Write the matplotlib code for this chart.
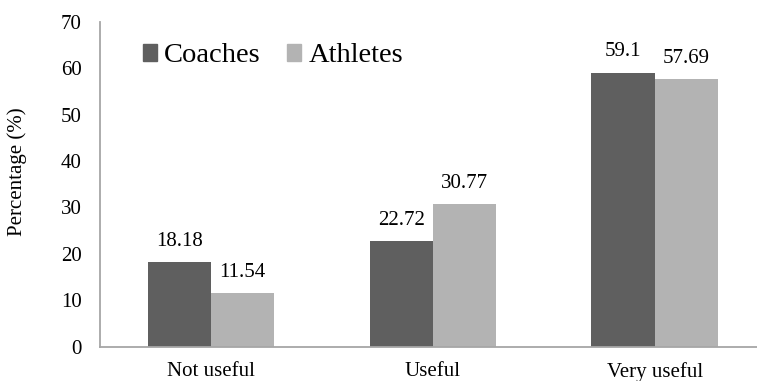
import matplotlib
matplotlib.use("Agg")
import matplotlib.pyplot as plt
import numpy as np
from matplotlib.patches import Patch

plt.rcParams['font.family'] = ['Liberation Serif', 'DejaVu Serif']

categories = ["Not useful", "Useful", "Very useful"]
coaches = [18.18, 22.72, 59.1]
athletes = [11.54, 30.77, 57.69]
coach_labels = ["18.18", "22.72", "59.1"]
athlete_labels = ["11.54", "30.77", "57.69"]

dark = "#5f5f5f"
light = "#b3b3b3"
spine_col = "#a6a6a6"

W, H = 757, 381
fig = plt.figure(figsize=(W / 100, H / 100), dpi=100)
ax = fig.add_axes([100 / W, (H - 346.5) / H, 1 - 100 / W, (346.5 - 22) / H])

x = np.arange(len(categories))
bw = 1 / 3.5
b1 = ax.bar(x - bw / 2, coaches, bw, color=dark, label="Coaches")
b2 = ax.bar(x + bw / 2, athletes, bw, color=light, label="Athletes")

for bars, texts in ((b1, coach_labels), (b2, athlete_labels)):
    for rect, txt in zip(bars, texts):
        ax.annotate(txt, (rect.get_x() + rect.get_width() / 2, rect.get_height()),
                    xytext=(0, 8), textcoords="offset points",
                    ha="center", va="bottom", fontsize=15)

ax.set_xlim(-0.5, 2.46)
ax.set_ylim(0, 70)
ax.set_yticks(np.arange(0, 71, 10))
ax.set_xticks(x)
ax.set_xticklabels(categories, fontsize=15)
ax.tick_params(axis="y", labelsize=15, length=0, pad=13)
ax.tick_params(axis="x", length=0, pad=11)

for side in ("top", "right"):
    ax.spines[side].set_visible(False)
for side in ("left", "bottom"):
    ax.spines[side].set_color(spine_col)
    ax.spines[side].set_linewidth(1.3)

ax.set_ylabel("Percentage (%)", fontsize=15)
ax.yaxis.set_label_coords(27 / W, 1 - 172 / H, transform=fig.transFigure)

handles = [Patch(color=dark, label="Coaches"), Patch(color=light, label="Athletes")]
fig.legend(handles=handles, loc="center left", bbox_to_anchor=(143 / W, 1 - 56 / H),
           ncol=2, frameon=False, fontsize=20.5, handlelength=0.5, handleheight=0.5,
           handletextpad=0.25, columnspacing=0.92, borderpad=0, borderaxespad=0)

fig.savefig("out.png", dpi=100)
